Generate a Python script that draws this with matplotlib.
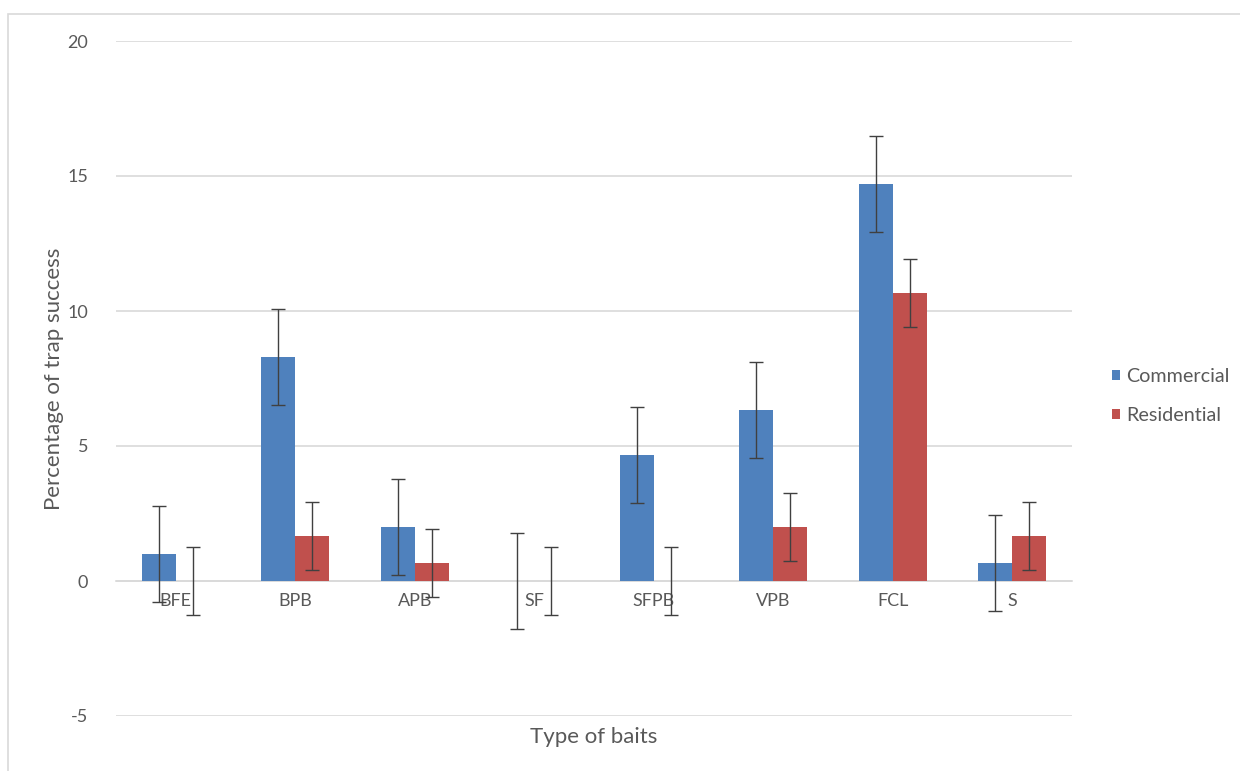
import numpy as np
import matplotlib.pyplot as plt
from matplotlib.patches import Rectangle

baits = ["BFE", "BPB", "APB", "SF", "SFPB", "VPB", "FCL", "S"]
commercial = [1.0, 8.3, 2.0, 0.0, 4.67, 6.33, 14.7, 0.67]
residential = [0.0, 1.67, 0.67, 0.0, 0.0, 2.0, 10.67, 1.67]
commercial_err = [1.77, 1.77, 1.77, 1.77, 1.77, 1.77, 1.77, 1.77]
residential_err = [1.27, 1.27, 1.27, 1.27, 1.27, 1.27, 1.27, 1.27]

blue = "#4F81BD"
red = "#C0504D"
grid = "#D9D9D9"
text = "#595959"

plt.rcParams["font.family"] = ["Lato", "DejaVu Sans"]
plt.rcParams["axes.unicode_minus"] = False

fig = plt.figure(figsize=(12.4, 7.71), dpi=100)
fig.patches.append(Rectangle((8 / 1240, -0.1), 1.2, 1 - 14 / 771 + 0.1,
                             transform=fig.transFigure, fill=False,
                             edgecolor="#D9D9D9", linewidth=1.2))
ax = fig.add_axes([116 / 1240, 55 / 771, 956 / 1240, 675 / 771])

x = np.arange(len(baits))
w = 0.285
ax.bar(x - w / 2, commercial, w, color=blue, label="Commercial", zorder=2)
ax.bar(x + w / 2, residential, w, color=red, label="Residential", zorder=2)
ax.errorbar(x - w / 2, commercial, yerr=commercial_err, fmt="none",
            ecolor="#404040", elinewidth=1, capsize=5, capthick=1, zorder=3)
ax.errorbar(x + w / 2, residential, yerr=residential_err, fmt="none",
            ecolor="#404040", elinewidth=1, capsize=5, capthick=1, zorder=3)

ax.set_xlim(-0.5, len(baits) - 0.5)
ax.set_ylim(-5, 20)
ax.set_yticks([-5, 0, 5, 10, 15, 20])
ax.yaxis.grid(True, color=grid, linewidth=1.2, zorder=0)
ax.set_axisbelow(True)

for side in ["top", "right", "left"]:
    ax.spines[side].set_visible(False)
ax.spines["bottom"].set_position(("data", 0))
ax.spines["bottom"].set_color(grid)
ax.spines["bottom"].set_linewidth(1.2)
ax.spines["bottom"].set_zorder(1)

ax.set_xticks(x)
ax.set_xticklabels(baits)
ax.tick_params(axis="x", length=0, pad=9, labelsize=13, labelcolor=text)
ax.tick_params(axis="y", length=0, pad=20, labelsize=13, labelcolor=text)

ax.set_xlabel("Type of baits", fontsize=16, color=text)
ax.xaxis.set_label_coords(0.5, -0.016)
ax.set_ylabel("Percentage of trap success", fontsize=16, color=text)
ax.yaxis.set_label_coords(-0.054, 0.5)

fig.legend(loc="center left", bbox_to_anchor=(1094 / 1240, 1 - 396 / 771),
           frameon=False, fontsize=14.2, labelcolor=text, handlelength=0.4,
           handleheight=0.4, handletextpad=0.35, labelspacing=1.15)

fig.savefig("out.png", dpi=100)
